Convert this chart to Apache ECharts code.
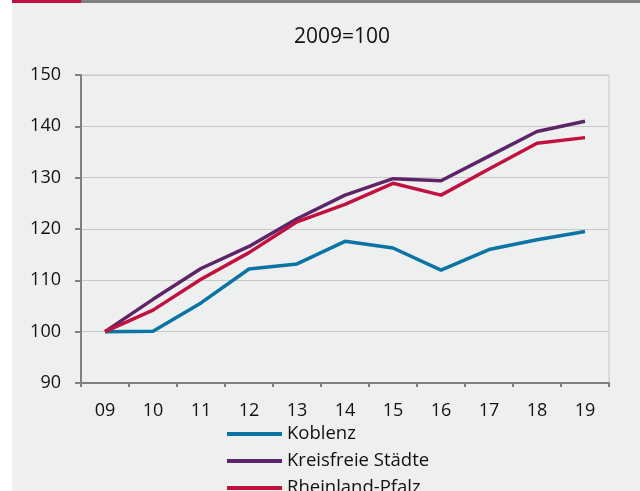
<!DOCTYPE html>
<html>
<head>
<meta charset="utf-8">
<script src="https://cdn.jsdelivr.net/npm/echarts@6/dist/echarts.min.js"></script>
<style>
  html, body { margin: 0; padding: 0; background: #fff; }
  #chart { width: 640px; height: 491px; }
</style>
</head>
<body>
<div id="chart"></div>
<script>
const years = ['09', '10', '11', '12', '13', '14', '15', '16', '17', '18', '19'];
const koblenz = [100, 100.1, 105.6, 112.2, 113.2, 117.6, 116.3, 112.0, 116.0, 117.9, 119.5];
const kreisfreie = [100, 106.3, 112.3, 116.6, 122.0, 126.6, 129.8, 129.4, 134.2, 139.0, 141.0];
const rlp = [100, 104.2, 110.2, 115.4, 121.4, 124.8, 128.9, 126.6, 131.7, 136.7, 137.8];

const fontFamily = '"Open Sans", "Noto Sans", sans-serif';
const axisGrey = '#808080';

const makeLine = (name, data, color) => ({
  name,
  type: 'line',
  data,
  symbol: 'none',
  lineStyle: { color, width: 3.5 },
  itemStyle: { color },
});

const chart = echarts.init(document.getElementById('chart'));
chart.setOption({
  backgroundColor: '#fff',
  animation: false,
  textStyle: { fontFamily },
  graphic: [
    { type: 'rect', shape: { x: 12, y: 3, width: 628, height: 488 }, style: { fill: '#eeefef' }, z: -10 },
    { type: 'rect', shape: { x: 12, y: 0, width: 69, height: 3 }, style: { fill: '#c0103f' }, z: -10 },
    { type: 'rect', shape: { x: 81, y: 0, width: 559, height: 3 }, style: { fill: axisGrey }, z: -10 },
  ],
  title: {
    text: '2009=100',
    left: 337,
    top: 22,
    textAlign: 'center',
    textStyle: { fontFamily, fontSize: 21, fontWeight: 'normal', color: '#111' },
  },
  grid: {
    left: 81,
    right: 31,
    top: 75,
    bottom: 108,
    show: true,
    borderColor: '#c8c8c8',
    borderWidth: 1,
  },
  legend: {
    orient: 'vertical',
    left: 222,
    top: 419,
    height: 200,
    itemWidth: 55,
    itemHeight: 4,
    itemGap: 7,
    icon: 'rect',
    textStyle: { fontFamily, fontSize: 18.5, color: '#111', lineHeight: 20 },
    data: ['Koblenz', 'Kreisfreie Städte', 'Rheinland-Pfalz'],
  },
  xAxis: {
    type: 'category',
    data: years,
    boundaryGap: true,
    axisLine: { lineStyle: { color: axisGrey, width: 2 } },
    axisTick: { show: true, length: 4, lineStyle: { color: axisGrey, width: 2 } },
    axisLabel: { color: '#111', fontSize: 18, margin: 19 },
  },
  yAxis: {
    type: 'value',
    min: 90,
    max: 150,
    interval: 10,
    axisLine: { show: true, lineStyle: { color: axisGrey, width: 2 } },
    axisTick: { show: true, length: 6, lineStyle: { color: axisGrey, width: 2 } },
    axisLabel: { color: '#111', fontSize: 18, margin: 20 },
    splitLine: { lineStyle: { color: '#c8c8c8', width: 1 } },
  },
  series: [
    makeLine('Koblenz', koblenz, '#0a74a5'),
    makeLine('Kreisfreie Städte', kreisfreie, '#5e2468'),
    makeLine('Rheinland-Pfalz', rlp, '#c1123f'),
  ],
});
</script>
</body>
</html>
